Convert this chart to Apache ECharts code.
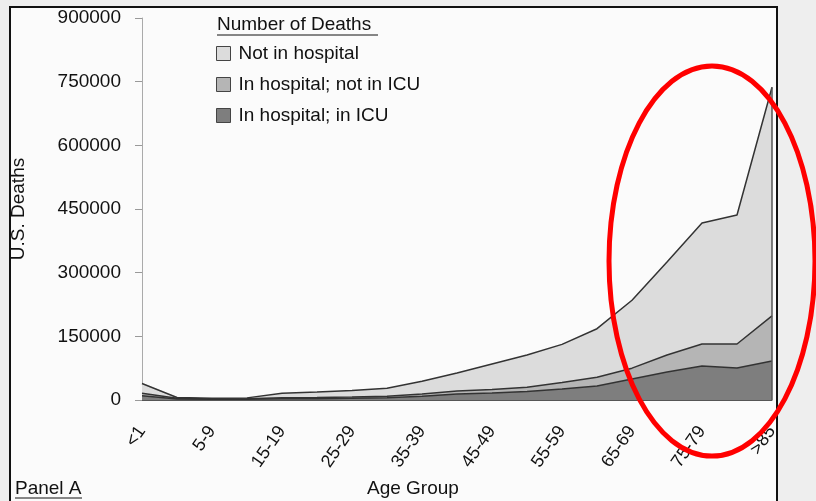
<!DOCTYPE html>
<html>
<head>
<meta charset="utf-8">
<script src="https://cdn.jsdelivr.net/npm/echarts@6/dist/echarts.min.js"></script>
<style>
  html, body { margin: 0; padding: 0; }
  #main { width: 816px; height: 501px; }
</style>
</head>
<body>
<div id="main"></div>
<script>
// age groups (x axis)
var ageGroups = ['<1', '1-4', '5-9', '10-14', '15-19', '20-24', '25-29', '30-34', '35-39', '40-44',
  '45-49', '50-54', '55-59', '60-64', '65-69', '70-74', '75-79', '80-84', '>85'];

// deaths per group, stacked bottom -> top
var inIcu = [10000, 2500, 1500, 2000, 3000, 3000, 4000, 5500, 9000, 14000,
  16500, 20000, 26000, 33000, 49500, 66000, 80000, 75500, 92000];
var inHospNotIcu = [6000, 1500, 1000, 1000, 2500, 3000, 3000, 3500, 5000, 7000,
  8500, 10000, 15000, 20500, 25500, 40000, 52000, 56500, 106000];
var notInHosp = [23000, 2000, 1500, 2000, 10500, 13000, 15500, 18500, 30000, 42500,
  60000, 76000, 90000, 114500, 160000, 219000, 285000, 304000, 539000];

var yTicks = { min: 0, max: 900000, step: 150000 };

var FONT = '"Liberation Sans", Arial, sans-serif';
var chart = echarts.init(document.getElementById('main'));

var last = ageGroups.length - 1;
var lastTotal = inIcu[last] + inHospNotIcu[last] + notInHosp[last];

var option = {
  backgroundColor: '#eeeeee',
  animation: false,
  textStyle: { fontFamily: FONT, color: '#111' },
  grid: { left: 142, right: 44, top: 18, bottom: 101, outerBoundsMode: 'none' },
  legend: {
    orient: 'vertical',
    left: 216,
    top: 44,
    padding: 0,
    itemWidth: 14,
    itemHeight: 14,
    itemGap: 12,
    icon: 'rect',
    data: ['Not in hospital', 'In hospital; not in ICU', 'In hospital; in ICU'],
    itemStyle: { borderColor: '#444', borderWidth: 1 },
    textStyle: { fontSize: 19, color: '#111', fontFamily: FONT, padding: [0, 0, 0, 3] }
  },
  xAxis: {
    type: 'category',
    data: ageGroups,
    boundaryGap: false,
    axisLine: { lineStyle: { color: '#555', width: 1 } },
    axisTick: { show: false },
    axisLabel: { rotate: 55, interval: 1, fontSize: 18, color: '#111', margin: 28 }
  },
  yAxis: {
    type: 'value',
    min: yTicks.min,
    max: yTicks.max,
    interval: yTicks.step,
    name: 'U.S. Deaths',
    nameLocation: 'middle',
    nameGap: 114,
    nameTextStyle: { fontSize: 19, color: '#111' },
    axisLine: { show: true, lineStyle: { color: '#aaa' } },
    axisTick: { show: true, length: 7, lineStyle: { color: '#999' } },
    axisLabel: { fontSize: 19, color: '#111', margin: 21, formatter: function (v) { return String(v); } },
    splitLine: { show: false }
  },
  series: [{
    name: 'In hospital; in ICU',
    type: 'line',
    stack: 'deaths',
    data: inIcu,
    symbol: 'none',
    color: '#7e7e7e',
    lineStyle: { color: '#333', width: 1.5 },
    areaStyle: { color: '#7e7e7e', opacity: 1 }
  }, {
    name: 'In hospital; not in ICU',
    type: 'line',
    stack: 'deaths',
    data: inHospNotIcu,
    symbol: 'none',
    color: '#b5b5b5',
    lineStyle: { color: '#333', width: 1.5 },
    areaStyle: { color: '#b5b5b5', opacity: 1 }
  }, {
    name: 'Not in hospital',
    type: 'line',
    stack: 'deaths',
    data: notInHosp,
    symbol: 'none',
    color: '#dcdcdc',
    lineStyle: { color: '#333', width: 1.5 },
    areaStyle: { color: '#dcdcdc', opacity: 1 },
    markLine: {
      silent: true,
      symbol: 'none',
      label: { show: false },
      lineStyle: { color: '#555', width: 1.5, type: 'solid' },
      data: [[{ coord: [ageGroups[last], 0] }, { coord: [ageGroups[last], lastTotal] }]]
    }
  }],
  graphic: [
    // frame of the figure
    { type: 'rect', z: -10, shape: { x: 10, y: 7, width: 767, height: 500 },
      style: { fill: '#fbfbfb', stroke: '#111', lineWidth: 2 } },
    // legend title
    { type: 'text', left: 217, top: 15,
      style: { text: 'Number of Deaths', fontSize: 19, fontFamily: FONT, fill: '#111' } },
    { type: 'line', shape: { x1: 217, y1: 35, x2: 378, y2: 35 },
      style: { stroke: '#111', lineWidth: 1 } },
    // x axis title
    { type: 'text', left: 367, top: 479,
      style: { text: 'Age Group', fontSize: 19, fontFamily: FONT, fill: '#111' } },
    // panel label
    { type: 'text', left: 15, top: 479,
      style: { text: 'Panel A', fontSize: 19, fontFamily: FONT, fill: '#111' } },
    { type: 'line', shape: { x1: 15, y1: 498, x2: 82, y2: 498 },
      style: { stroke: '#111', lineWidth: 1 } },
    // red highlight
    { type: 'ellipse', z: 100, shape: { cx: 712, cy: 261, rx: 103, ry: 195 },
      style: { fill: 'none', stroke: '#ff0000', lineWidth: 5 } }
  ]
};

chart.setOption(option);
</script>
</body>
</html>
